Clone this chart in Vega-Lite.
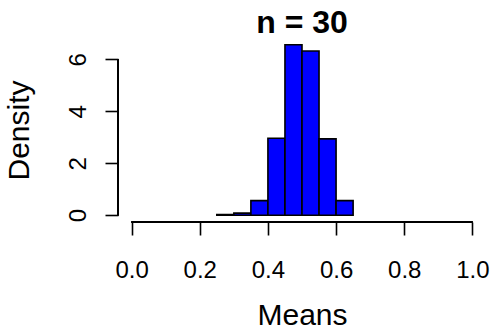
{
  "$schema": "https://vega.github.io/schema/vega-lite/v6.json",
  "width": 368,
  "height": 184,
  "autosize": {"type": "none"},
  "padding": {"left": 118, "top": 38, "right": 6, "bottom": 113},
  "background": "white",
  "config": {
    "view": {"stroke": null},
    "font": "Liberation Sans",
    "axis": {"grid": false, "domain": false, "tickColor": "black", "tickWidth": 1.6, "tickSize": 13, "labelColor": "black", "titleColor": "black", "labelFont": "Liberation Sans", "titleFont": "Liberation Sans", "labelFontSize": 24, "titleFontSize": 30, "titleFontWeight": "normal"}
  },
  "title": {"text": "n = 30", "fontSize": 32, "fontWeight": "bold", "font": "Liberation Sans", "color": "black", "anchor": "middle", "offset": -2},
  "data": {"values": [
    {"start": 0.25, "end": 0.30, "density": 0.02},
    {"start": 0.30, "end": 0.35, "density": 0.08},
    {"start": 0.35, "end": 0.40, "density": 0.56},
    {"start": 0.40, "end": 0.45, "density": 2.96},
    {"start": 0.45, "end": 0.50, "density": 6.56},
    {"start": 0.50, "end": 0.55, "density": 6.32},
    {"start": 0.55, "end": 0.60, "density": 2.94},
    {"start": 0.60, "end": 0.65, "density": 0.56}
  ]},
  "layer": [
    {
      "mark": {"type": "bar", "fill": "#0000ff", "stroke": "black", "strokeWidth": 1.6},
      "encoding": {
        "x": {"field": "start", "type": "quantitative", "scale": {"domain": [-0.04, 1.04], "nice": false, "zero": false}, "axis": {"values": [0, 0.2, 0.4, 0.6, 0.8, 1.0], "format": ".1f", "title": "Means", "labelPadding": 23, "titlePadding": 18}},
        "x2": {"field": "end"},
        "y": {"field": "density", "type": "quantitative", "scale": {"domain": [-0.2624, 6.8224], "nice": false, "zero": false}, "axis": {"values": [0, 1, 2, 3, 4, 5, 6], "labelExpr": "datum.value % 2 == 0 ? datum.label : ''", "labelAngle": -90, "labelAlign": "center", "labelBaseline": "alphabetic", "labelPadding": 20, "title": "Density", "titlePadding": 32}},
        "y2": {"datum": 0}
      }
    },
    {
      "mark": {"type": "rule", "color": "black", "strokeWidth": 1.6},
      "encoding": {"x": {"datum": 0}, "x2": {"datum": 1}, "y": {"datum": -0.2624}}
    },
    {
      "mark": {"type": "rule", "color": "black", "strokeWidth": 1.6},
      "encoding": {"y": {"datum": 0}, "y2": {"datum": 6}, "x": {"datum": -0.04}}
    }
  ]
}
